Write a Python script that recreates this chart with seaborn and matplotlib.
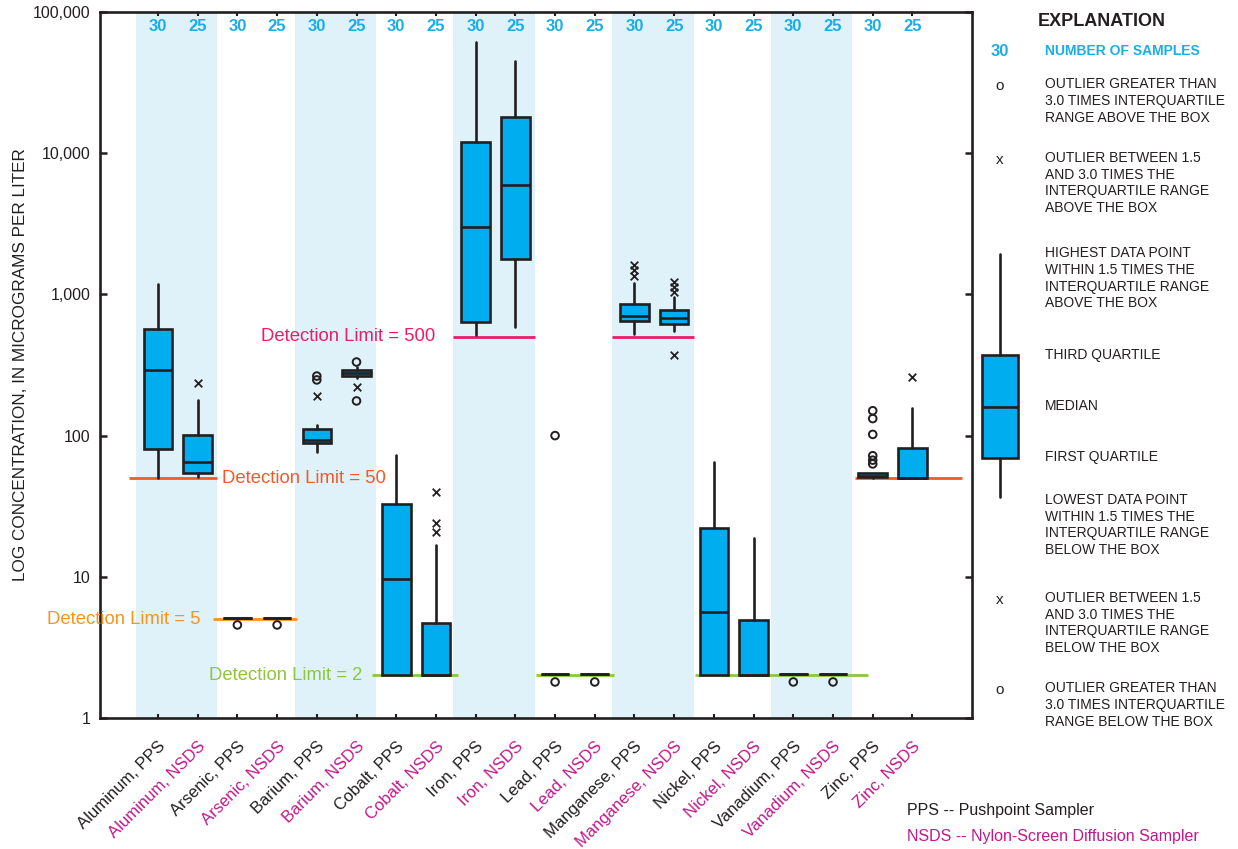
import numpy as np
import pandas as pd
import seaborn as sns
import matplotlib.pyplot as plt
from matplotlib.ticker import FixedLocator, NullLocator, FuncFormatter

# ---- data ----
elements = ["Aluminum", "Arsenic", "Barium", "Cobalt", "Iron",
            "Lead", "Manganese", "Nickel", "Vanadium", "Zinc"]
samplers = ["PPS", "NSDS"]
labels = [f"{e}, {s}" for e in elements for s in samplers]
n_samples = [30, 25] * 10

whislo = [50, 51, 5.1, 5.1, 77, 256, 2, 2, 516, 588,
          2.04, 2.04, 525, 552, 2, 2, 2.04, 2.04, 50, 50]
q1 = [80, 54, 5.1, 5.1, 89, 264, 2, 2, 638, 1780,
      2.04, 2.04, 648, 617, 2, 2, 2.04, 2.04, 51, 50]
med = [291, 65, 5.1, 5.1, 93, 277, 9.6, 2, 3000, 5950,
       2.04, 2.04, 700, 681, 5.6, 2, 2.04, 2.04, 52, 50]
q3 = [569, 101, 5.1, 5.1, 111, 291, 32.8, 4.7, 12000, 18000,
      2.04, 2.04, 855, 776, 22.2, 4.94, 2.04, 2.04, 54, 82]
whishi = [1185, 179, 5.1, 5.1, 119, 306, 73, 16.8, 61400, 45000,
          2.04, 2.04, 1205, 956, 65, 18.8, 2.04, 2.04, 54, 157]
x_outliers = [[], [236], [], [], [191], [221], [], [40, 24, 20.8], [], [],
              [], [], [1615, 1490, 1350], [1224, 1128, 1040, 372], [], [], [], [], [], [260]]
o_outliers = [[], [], [4.56], [4.56], [264, 248], [332, 176], [], [], [], [],
              [100, 1.8], [1.8], [], [], [], [], [1.8], [1.8], [150, 132, 102, 72, 67, 63], []]

dl_values = [50, 5, 2, 500, 2, 500, 2, 50]
dl_start = [-0.72, 1.39, 5.39, 7.43, 9.52, 11.44, 13.53, 17.56]
dl_end = [1.49, 3.5, 7.56, 9.5, 11.49, 13.5, 17.88, 20.25]

shaded_pairs = [0, 4, 8, 12, 16]

# colours
dark = "#231f20"
box_blue = "#00aeef"
band_blue = "#dff1f9"
count_blue = "#1aaee8"
nsds_pink = "#c0198c"
dl_colors = {50: "#f15a29", 5: "#f7941d", 2: "#8dc63f", 500: "#ec1c6b"}

sns.set_style("white")
plt.rcParams['font.family'] = ['Liberation Sans', 'DejaVu Sans']

W, H = 1238, 849
fig = plt.figure(figsize=(W / 100, H / 100), dpi=100)
ax = fig.add_axes([100 / W, 1 - 718 / H, 872 / W, 706 / H])

for i in shaded_pairs:
    ax.axvspan(i - 0.56, i + 1.49, color=band_blue, lw=0, zorder=0)

ax.set_yscale('log')

# detection limit lines
for v, a, b in zip(dl_values, dl_start, dl_end):
    ax.plot([a, b], [v, v], color=dl_colors[v], lw=2.0, zorder=2, solid_capstyle='butt')

stats = [dict(whislo=a, q1=b, med=c, q3=d, whishi=e, fliers=[])
         for a, b, c, d, e in zip(whislo, q1, med, q3, whishi)]
ax.bxp(stats, positions=np.arange(len(labels)), widths=0.72, patch_artist=True,
       showcaps=False, showfliers=False, manage_ticks=False, zorder=3,
       boxprops=dict(facecolor=box_blue, edgecolor=dark, linewidth=1.9),
       medianprops=dict(color=dark, linewidth=1.9, solid_capstyle='butt'),
       whiskerprops=dict(color=dark, linewidth=1.9))

# outliers
rows = []
for i in range(len(labels)):
    rows += [(i, v, "x") for v in x_outliers[i]]
    rows += [(i, v, "o") for v in o_outliers[i]]
out = pd.DataFrame(rows, columns=["pos", "value", "kind"])
sns.scatterplot(data=out[out.kind == "x"], x="pos", y="value", marker="x",
                color=dark, s=30, linewidth=1.3, ax=ax, zorder=5, legend=False)
sns.scatterplot(data=out[out.kind == "o"], x="pos", y="value", marker="o",
                facecolor="none", edgecolor=dark, color=dark, s=30, linewidth=1.4,
                ax=ax, zorder=5, legend=False)

# detection limit captions
dl_font = 13.3
ax.text(1.61, 50, "Detection Limit = 50", color=dl_colors[50], fontsize=dl_font, va='center', ha='left')
ax.text(1.08, 5, "Detection Limit = 5", color=dl_colors[5], fontsize=dl_font, va='center', ha='right', clip_on=False)
ax.text(5.14, 2, "Detection Limit = 2", color=dl_colors[2], fontsize=dl_font, va='center', ha='right')
ax.text(6.98, 500, "Detection Limit = 500", color=dl_colors[500], fontsize=dl_font, va='center', ha='right')

# sample counts
trans = ax.get_xaxis_transform()
for i, n in enumerate(n_samples):
    ax.text(i, 0.979, str(n), transform=trans, ha='center', va='center',
            color=count_blue, fontsize=12, fontweight='bold')

ax.set_xlim(-1.46, 20.5)
ax.set_ylim(1, 100000)
ax.yaxis.set_major_locator(FixedLocator([1, 10, 100, 1000, 10000, 100000]))
ax.yaxis.set_minor_locator(NullLocator())
ax.yaxis.set_major_formatter(FuncFormatter(lambda v, p: f"{v:,.0f}"))
ax.set_xticks(np.arange(len(labels)))
ax.set_xticklabels(labels, rotation=45, ha='right', va='top', rotation_mode='anchor')
for i, t in enumerate(ax.get_xticklabels()):
    t.set_color(dark if i % 2 == 0 else nsds_pink)
ax.tick_params(axis='x', direction='in', length=3, width=1.5, bottom=True, top=True,
               labelsize=12, pad=15, color=dark)
ax.tick_params(axis='y', direction='in', length=5, width=1.8, left=True, right=True,
               labelsize=11.5, pad=7, color=dark, labelcolor=dark)
for s in ax.spines.values():
    s.set_linewidth(1.9)
    s.set_color(dark)
ax.set_ylabel("LOG CONCENTRATION, IN MICROGRAMS PER LITER", fontsize=12.3, color=dark, labelpad=3)
ax.set_xlabel("")

# ---- explanation ----
def fx(x):
    return x / W

def fy(y):
    return 1 - y / H

lax = fig.add_axes([975 / W, fy(500), 50 / W, 248 / H])
legend_box = dict(whislo=0.012, q1=0.17, med=0.375, q3=0.585, whishi=0.99, fliers=[])
lax.bxp([legend_box], positions=[1], widths=0.72, patch_artist=True, showcaps=False,
        showfliers=False, manage_ticks=False,
        boxprops=dict(facecolor=box_blue, edgecolor=dark, linewidth=1.9),
        medianprops=dict(color=dark, linewidth=1.9, solid_capstyle='butt'),
        whiskerprops=dict(color=dark, linewidth=1.9))
lax.set_xlim(0.5, 1.5)
lax.set_ylim(0, 1)
lax.axis('off')

fig.text(fx(1038), fy(22), "EXPLANATION", fontsize=13, fontweight='bold', color=dark, va='center')
fig.text(fx(1000), fy(51), "30", fontsize=12, fontweight='bold', color=count_blue, va='center', ha='center')
fig.text(fx(1045), fy(51), "NUMBER OF SAMPLES", fontsize=10, fontweight='bold', color=count_blue, va='center')

expl = [
    (86, "o", "OUTLIER GREATER THAN\n3.0 TIMES INTERQUARTILE\nRANGE ABOVE THE BOX"),
    (160, "x", "OUTLIER BETWEEN 1.5\nAND 3.0 TIMES THE\nINTERQUARTILE RANGE\nABOVE THE BOX"),
    (255, "", "HIGHEST DATA POINT\nWITHIN 1.5 TIMES THE\nINTERQUARTILE RANGE\nABOVE THE BOX"),
    (357, "", "THIRD QUARTILE"),
    (408, "", "MEDIAN"),
    (459, "", "FIRST QUARTILE"),
    (502, "", "LOWEST DATA POINT\nWITHIN 1.5 TIMES THE\nINTERQUARTILE RANGE\nBELOW THE BOX"),
    (600, "x", "OUTLIER BETWEEN 1.5\nAND 3.0 TIMES THE\nINTERQUARTILE RANGE\nBELOW THE BOX"),
    (690, "o", "OUTLIER GREATER THAN\n3.0 TIMES INTERQUARTILE\nRANGE BELOW THE BOX"),
]
for y, sym, txt in expl:
    if sym:
        fig.text(fx(1000), fy(y), sym, fontsize=11, color=dark, ha='center', va='center')
    fig.text(fx(1045), fy(y - 9), txt, fontsize=10, color=dark, va='top', linespacing=1.25)

fig.text(fx(907), fy(810), "PPS -- Pushpoint Sampler", fontsize=11.5, color=dark, va='center')
fig.text(fx(907), fy(836), "NSDS -- Nylon-Screen Diffusion Sampler", fontsize=11.5, color=nsds_pink, va='center')

fig.savefig("out.png", dpi=100)
